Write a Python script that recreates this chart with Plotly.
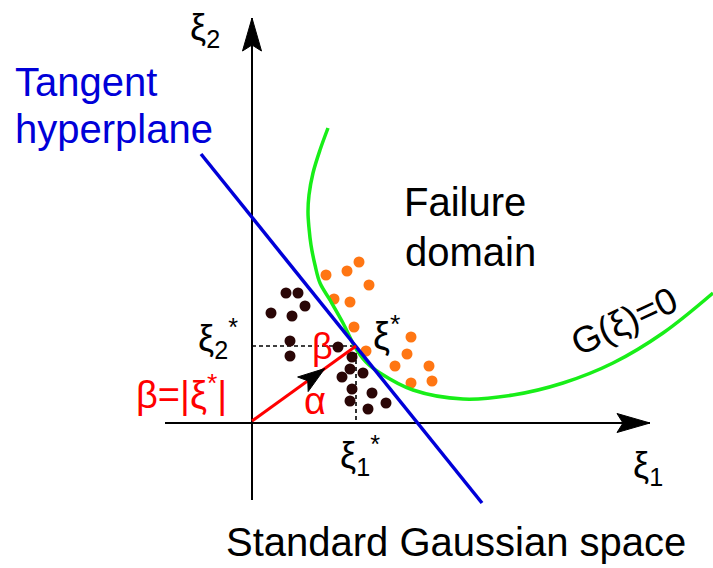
import numpy as np
import plotly.graph_objects as go

# ---- diagram data (pixel-space coordinates of the schematic) ----
axis_v_x = [252, 252]
axis_v_y = [500, 18]
axis_h_x = [165, 650]
axis_h_y = [423, 423]

tangent_x = [201, 482]
tangent_y = [154, 503]

limit_x = [328, 320, 313, 309, 308, 309, 311, 315, 320, 330, 343, 355, 366, 380, 413, 463, 513, 563, 613, 663, 713]
limit_y = [128, 150, 173, 195, 212, 228, 245, 265, 283, 300, 323, 347, 362, 373, 390, 399, 395, 383, 363, 333, 293]

design_pt_x = [356]
design_pt_y = [346]
origin_x = [252]
origin_y = [421]

dark_x = [286, 298, 271, 292, 305, 290, 290, 338, 352, 350, 342, 363, 352, 372, 350, 386, 368]
dark_y = [293, 293, 313, 316, 306, 341, 356, 347, 357, 369, 377, 373, 389, 393, 401, 403, 409]

orange_x = [326, 347, 359, 369, 334, 350, 354, 411, 366, 407, 395, 429, 411, 432]
orange_y = [275, 271, 262, 285, 299, 302, 327, 337, 351, 354, 366, 366, 383, 381]

FONT = "Liberation Sans, Arial, sans-serif"
BLUE = "#0000d8"
GREEN = "#18ee18"
RED = "#ff0000"
ORANGE = "#ff7613"
DARK = "#2a0606"


def head(tip_x, tip_y, from_x, from_y, length, halfw, notch):
    d = np.array([tip_x - from_x, tip_y - from_y], dtype=float)
    d /= np.hypot(*d)
    n = np.array([-d[1], d[0]])
    tip = np.array([tip_x, tip_y], dtype=float)
    base = tip - d * length
    c1 = base + n * halfw
    c2 = base - n * halfw
    nt = tip - d * (length - notch)
    pts = [tip, c1, nt, c2, tip]
    return [p[0] for p in pts], [p[1] for p in pts]


fig = go.Figure()

# axes
fig.add_trace(go.Scatter(x=axis_v_x, y=axis_v_y, mode="lines",
                         line=dict(color="black", width=2)))
fig.add_trace(go.Scatter(x=axis_h_x, y=axis_h_y, mode="lines",
                         line=dict(color="black", width=2)))
for (tx, ty, fx, fy) in [(axis_v_x[1], axis_v_y[1], axis_v_x[0], axis_v_y[0]),
                         (axis_h_x[1], axis_h_y[1], axis_h_x[0], axis_h_y[0])]:
    hx, hy = head(tx, ty, fx, fy, 33, 9.5, 6)
    fig.add_trace(go.Scatter(x=hx, y=hy, mode="lines", fill="toself",
                             fillcolor="black", line=dict(color="black", width=1)))

# dashed projections
fig.add_trace(go.Scatter(x=[axis_v_x[0], design_pt_x[0]], y=[design_pt_y[0], design_pt_y[0]],
                         mode="lines", line=dict(color="black", width=1.6, dash="4px,3px")))
fig.add_trace(go.Scatter(x=[design_pt_x[0], design_pt_x[0]], y=[design_pt_y[0], axis_h_y[0]],
                         mode="lines", line=dict(color="black", width=1.6, dash="4px,3px")))

# samples
fig.add_trace(go.Scatter(x=dark_x, y=dark_y, mode="markers",
                         marker=dict(color=DARK, size=11, line=dict(width=0))))
fig.add_trace(go.Scatter(x=orange_x, y=orange_y, mode="markers",
                         marker=dict(color=ORANGE, size=11, line=dict(width=0))))

# limit state curve
fig.add_trace(go.Scatter(x=limit_x, y=limit_y, mode="lines",
                         line=dict(color=GREEN, width=3.5, shape="spline", smoothing=1.0)))

# tangent hyperplane
fig.add_trace(go.Scatter(x=tangent_x, y=tangent_y, mode="lines",
                         line=dict(color=BLUE, width=3.5)))

# beta vector
fig.add_trace(go.Scatter(x=[origin_x[0], design_pt_x[0]], y=[origin_y[0], design_pt_y[0]],
                         mode="lines", line=dict(color=RED, width=3)))
t = 0.70
tipx = origin_x[0] + t * (design_pt_x[0] - origin_x[0])
tipy = origin_y[0] + t * (design_pt_y[0] - origin_y[0])
hx, hy = head(tipx, tipy, origin_x[0], origin_y[0], 27, 9, 6)
fig.add_trace(go.Scatter(x=hx, y=hy, mode="lines", fill="toself",
                         fillcolor="black", line=dict(color="black", width=1)))


def label(text, x, y, size, color="black", xanchor="center", yanchor="middle", angle=0):
    fig.add_annotation(x=x, y=y, xref="x", yref="y", text=text, showarrow=False,
                       font=dict(family=FONT, size=size, color=color),
                       xanchor=xanchor, yanchor=yanchor, textangle=angle)


label("ξ<sub>2</sub>", 188, 30, 36, xanchor="left")
label("ξ<sub>1</sub>", 631, 468, 36, xanchor="left")
label("Tangent", 13, 82, 40, color=BLUE, xanchor="left")
label("hyperplane", 13, 129, 40, color=BLUE, xanchor="left")
label("Failure", 465, 202, 40)
label("domain", 470, 252, 40)
label("G(ξ)=0", 624, 321, 37, angle=-25)
label("ξ<sup>*</sup>", 371, 333, 38, xanchor="left")
label("β", 322, 346, 36, color=RED)
label("α", 315, 401, 38, color=RED)
label("ξ<sub>2</sub><sup>*</sup>", 196, 338, 36, xanchor="left")
label("ξ<sub>1</sub><sup>*</sup>", 338, 455, 36, xanchor="left")
label("β=|ξ<sup>*</sup>|", 181, 392, 38, color=RED)
label("Standard Gaussian space", 456, 542, 40)

fig.update_layout(
    width=713, height=568, autosize=False,
    margin=dict(l=0, r=0, t=0, b=0),
    paper_bgcolor="white", plot_bgcolor="white",
    showlegend=False,
    xaxis=dict(range=[0, 713], visible=False, fixedrange=True),
    yaxis=dict(range=[568, 0], visible=False, fixedrange=True),
)

fig.write_html("out.html", config={"displayModeBar": False},
               post_script="document.body.style.margin='0';document.body.style.overflow='hidden';")
